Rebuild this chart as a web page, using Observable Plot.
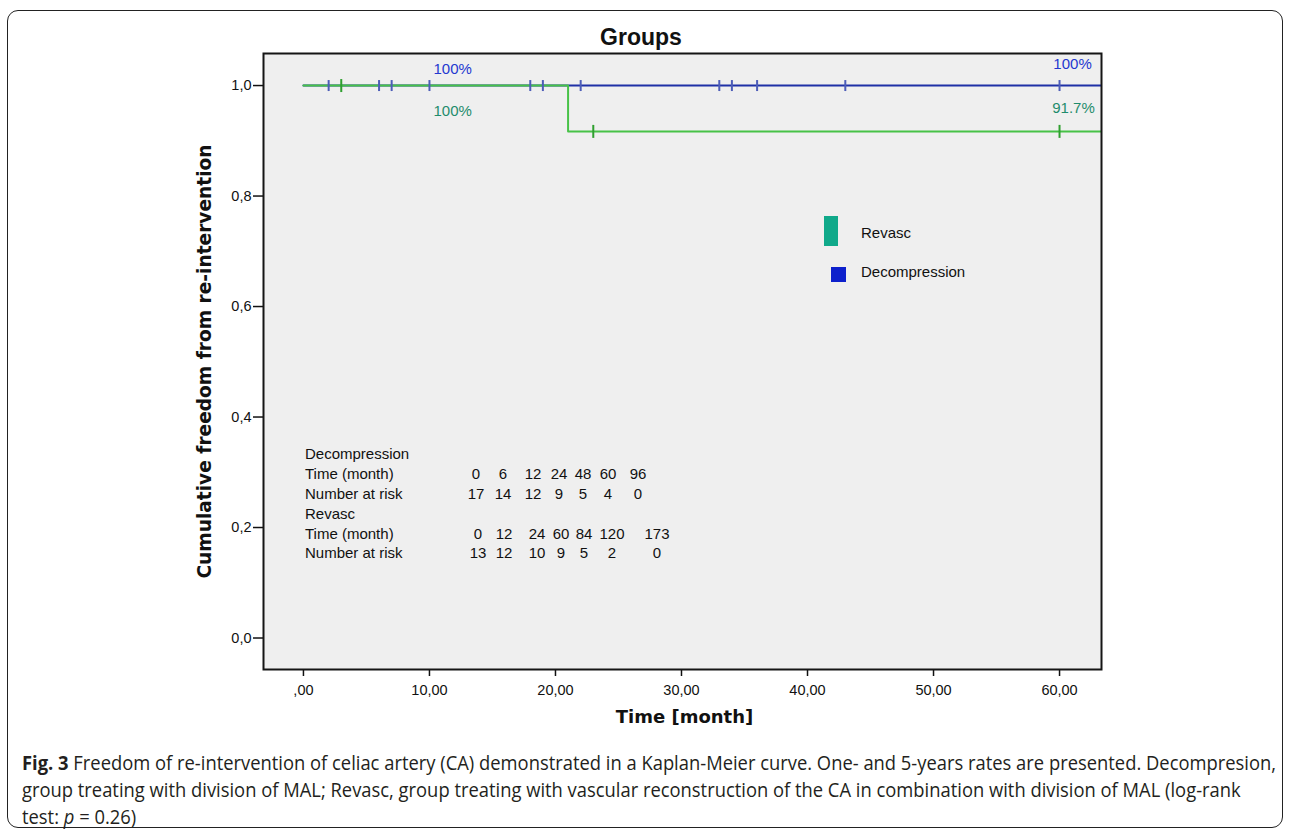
<!DOCTYPE html>
<html>
<head>
<meta charset="utf-8">
<script src="https://cdn.jsdelivr.net/npm/d3@7"></script>
<script src="https://cdn.jsdelivr.net/npm/@observablehq/plot@0.6"></script>
<style>
  html, body { margin: 0; padding: 0; background: #fff; }
  #wrap { position: relative; width: 1292px; height: 833px; overflow: hidden; font-family: "Liberation Sans", Arial, sans-serif; color: #111; }
  #box { position: absolute; left: 7px; top: 10px; width: 1276px; height: 818px; border: 1.6px solid #222; border-radius: 11px; box-sizing: border-box; }
  #chart { position: absolute; left: 0; top: 0; }
  #title { position: absolute; left: 541px; width: 200px; top: 24px; text-align: center; font: bold 23px "Liberation Sans", Arial, sans-serif; color: #111; }
  .ov { position: absolute; font-size: 15px; line-height: 18px; white-space: pre; color: #111; }
  .num { position: absolute; font-size: 15px; line-height: 18px; transform: translateX(-50%); color: #111; }
  #caption { position: absolute; left: 22px; top: 749px; font-family: "Liberation Sans Narrow", "Open Sans", sans-serif; font-size: 20px; color: #231f20; }
  #caption .ln { display: block; white-space: nowrap; height: 27px; line-height: 27px; transform-origin: left center; }
  #caption .ln span.in { display: inline-block; transform-origin: left center; }
</style>
</head>
<body>
<div id="wrap">
  <div id="box"></div>
  <div id="chart"></div>
  <div id="title"></div>
  <div id="legend"></div>
  <div id="atrisk"></div>
  <div id="caption"></div>
</div>
<script>
// ---------- data ----------
const groups = ["Revasc", "Decompression"];
const groupColors = ["#10a98a", "#0d20cc"];
// Kaplan-Meier step curves
const decompStepTimes = [0, 96];
const decompStepSurv = [1, 1];
const revascStepTimes = [0, 21, 173];
const revascStepSurv = [1, 0.917, 0.917];
// censored observations (months)
const decompCensorTimes = [2, 6, 7, 10, 18, 19, 22, 33, 34, 36, 43, 60];
const revascCensorTimes = [3, 23, 60];
// rate annotations (1- and 5-year)
const rateTimes = [12, 60];
const decompRateLabels = ["100%", "100%"];
const revascRateLabels = ["100%", "91.7%"];
// axis ticks
const xTicks = [0, 10, 20, 30, 40, 50, 60];
const yTicks = [0, 0.2, 0.4, 0.6, 0.8, 1.0];
// number-at-risk table
const decompTableTimes = [0, 6, 12, 24, 48, 60, 96];
const decompAtRisk = [17, 14, 12, 9, 5, 4, 0];
const revascTableTimes = [0, 12, 24, 60, 84, 120, 173];
const revascAtRisk = [13, 12, 10, 9, 5, 2, 0];
// texts
const titleText = "Groups";
const xLabel = "Time [month]";
const yLabel = "Cumulative freedom from re-intervention";

// ---------- helpers ----------
function stepAt(times, surv, t) {
  const i = d3.bisectRight(times, t) - 1;
  return surv[Math.max(0, i)];
}
const decompCurve = decompStepTimes.map((t, i) => ({t, s: decompStepSurv[i]}));
const revascCurve = revascStepTimes.map((t, i) => ({t, s: revascStepSurv[i]}));
const decompCens = decompCensorTimes.map(t => ({t, s: stepAt(decompStepTimes, decompStepSurv, t)}));
const revascCens = revascCensorTimes.map(t => ({t, s: stepAt(revascStepTimes, revascStepSurv, t)}));
const decompRates = rateTimes.map((t, i) => ({t, s: stepAt(decompStepTimes, decompStepSurv, t), label: decompRateLabels[i]}));
const revascRates = rateTimes.map((t, i) => ({t, s: stepAt(revascStepTimes, revascStepSurv, t), label: revascRateLabels[i]}));

const vtick = {
  draw(ctx, size) {
    const h = Math.sqrt(size / Math.PI);
    ctx.moveTo(0, -h);
    ctx.lineTo(0, h);
  }
};

const fmtX = d => d === 0 ? ",00" : d.toFixed(2).replace(".", ",");
const fmtY = d => d.toFixed(1).replace(".", ",");

const blueLine = "#1f30a6", blueTick = "#4d5db8", greenLine = "#47c247", greenTick = "#2f9f2f";
const blueText = "#2438d0", greenText = "#1f8c6c";

const chart = Plot.plot({
  width: 1292,
  height: 745,
  marginTop: 53,
  marginLeft: 263,
  marginRight: 191,
  marginBottom: 76,
  style: {background: "transparent", fontFamily: "'Liberation Sans', Arial, sans-serif", fontSize: "15px", color: "#111", overflow: "visible"},
  x: {domain: [-3.17, 63.33]},
  y: {domain: [-0.057, 1.058]},
  marks: [
    Plot.frame({fill: "#efefef"}),
    Plot.line(decompCurve, {x: "t", y: "s", curve: "step-after", stroke: blueLine, strokeWidth: 2, clip: true}),
    Plot.line(revascCurve, {x: "t", y: "s", curve: "step-after", stroke: greenLine, strokeWidth: 2, clip: true}),
    Plot.dot(decompCens, {x: "t", y: "s", symbol: vtick, r: 5.5, fill: "none", stroke: blueTick, strokeWidth: 2}),
    Plot.dot(revascCens, {x: "t", y: "s", symbol: vtick, r: 6.5, fill: "none", stroke: greenTick, strokeWidth: 2}),
    Plot.text(decompRates.slice(0, 1), {x: "t", y: "s", text: "label", dy: -16, dx: -2, fill: blueText, fontSize: 15}),
    Plot.text(revascRates.slice(0, 1), {x: "t", y: "s", text: "label", dy: 26, dx: -2, fill: greenText, fontSize: 15}),
    Plot.text(decompRates.slice(1), {x: "t", y: "s", text: "label", dy: -21, dx: 13, fill: blueText, fontSize: 15}),
    Plot.text(revascRates.slice(1), {x: "t", y: "s", text: "label", dy: -23, dx: 14, fill: greenText, fontSize: 15}),
    Plot.axisX({ticks: xTicks, tickFormat: fmtX, tickSize: 7, tickPadding: 8, strokeWidth: 1.5, label: null, fontSize: 14.5}),
    Plot.axisY({ticks: yTicks, tickFormat: fmtY, tickSize: 10, tickPadding: 2, strokeWidth: 1.5, label: null, fontSize: 14.5}),
    Plot.text([yLabel], {frameAnchor: "left", textAnchor: "middle", rotate: -90, dx: -58, fontWeight: "bold", fontSize: 18.6, fontFamily: "'DejaVu Sans', sans-serif", fill: "#111"}),
    Plot.text([xLabel], {frameAnchor: "bottom", dy: 53, dx: 2, fontWeight: "bold", fontSize: 18, fontFamily: "'DejaVu Sans', sans-serif", fill: "#111"}),
    Plot.frame({stroke: "#151515", strokeWidth: 2})
  ]
});
document.getElementById("chart").appendChild(chart);

// title
document.getElementById("title").textContent = titleText;

// legend (layout)
const legend = document.getElementById("legend");
const legendLayout = [
  {sw: {left: 824, top: 216, w: 14, h: 30}, textTop: 224},
  {sw: {left: 831, top: 267, w: 15, h: 15}, textTop: 263}
];
groups.forEach((g, i) => {
  const L = legendLayout[i];
  const sw = document.createElement("div");
  sw.style.cssText = `position:absolute;left:${L.sw.left}px;top:${L.sw.top}px;width:${L.sw.w}px;height:${L.sw.h}px;background:${groupColors[i]};`;
  legend.appendChild(sw);
  const tx = document.createElement("div");
  tx.className = "ov";
  tx.style.left = "861px"; tx.style.top = L.textTop + "px";
  tx.textContent = g;
  legend.appendChild(tx);
});

// number-at-risk table (layout)
const atrisk = document.getElementById("atrisk");
const rowTops = [445, 465, 485, 505, 525, 544];
const decompCols = [476, 503, 533, 559, 583, 608, 638];
const revascCols = [478, 504, 537, 561, 584, 612, 657];
const tableRows = [
  {label: "Decompression", vals: null},
  {label: "Time (month)", vals: decompTableTimes, cols: decompCols},
  {label: "Number at risk", vals: decompAtRisk, cols: decompCols},
  {label: "Revasc", vals: null},
  {label: "Time (month)", vals: revascTableTimes, cols: revascCols},
  {label: "Number at risk", vals: revascAtRisk, cols: revascCols}
];
tableRows.forEach((r, i) => {
  const lab = document.createElement("div");
  lab.className = "ov";
  lab.style.left = "305px"; lab.style.top = rowTops[i] + "px";
  lab.textContent = r.label;
  atrisk.appendChild(lab);
  if (r.vals) r.vals.forEach((v, j) => {
    const c = document.createElement("div");
    c.className = "num";
    c.style.left = r.cols[j] + "px"; c.style.top = rowTops[i] + "px";
    c.textContent = String(v);
    atrisk.appendChild(c);
  });
});

// caption
const cap = document.getElementById("caption");
const capLines = [
  '<b>Fig. 3</b> Freedom of re-intervention of celiac artery (CA) demonstrated in a Kaplan-Meier curve. One- and 5-years rates are presented. Decompresion,',
  'group treating with division of MAL; Revasc, group treating with vascular reconstruction of the CA in combination with division of MAL (log-rank',
  'test: <i>p</i> = 0.26)'
];
capLines.forEach(h => {
  const d = document.createElement("div");
  d.className = "ln";
  d.innerHTML = '<span class="in">' + h + '</span>';
  cap.appendChild(d);
});
const spans = cap.querySelectorAll("span.in");
const w0 = spans[0].getBoundingClientRect().width;
const sc = 1254 / w0;
spans.forEach(s => s.style.transform = `scaleX(${sc})`);
</script>
</body>
</html>
